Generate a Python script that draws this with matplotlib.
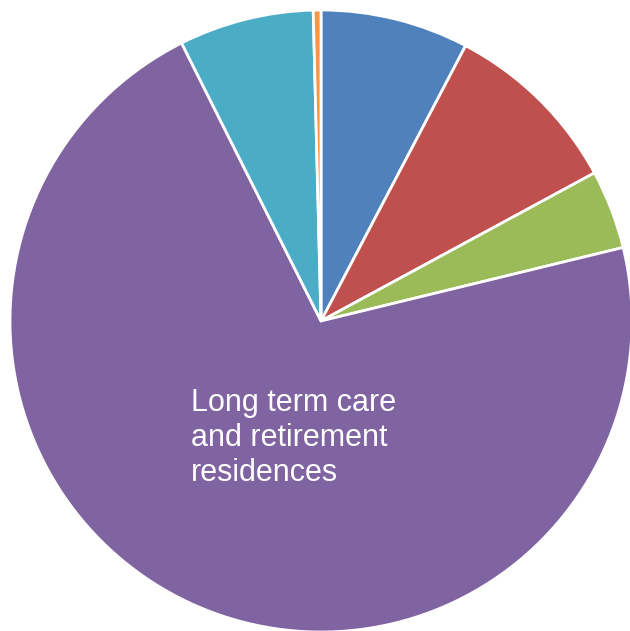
import matplotlib
matplotlib.use("Agg")
import matplotlib.pyplot as plt

# Share of spending by sector, clockwise from 12 o'clock
sectors = ["Sector A", "Sector B", "Sector C",
           "Long term care\nand retirement\nresidences", "Sector E", "Sector F"]
shares = [7.7, 9.4, 4.1, 71.4, 7.0, 0.4]
colors = ["#4F81BD", "#C0504D", "#9BBB59", "#8064A2", "#4BACC6", "#F79646"]

fig = plt.figure(figsize=(6.30, 6.31), dpi=100)
ax = fig.add_axes([0, 0, 1, 1])

wedges, _ = ax.pie(shares, colors=colors, startangle=90, counterclock=False,
                   radius=1.0, wedgeprops=dict(edgecolor="white", linewidth=2.0))

# Only the large slice is labelled
ax.text(-0.418, -0.215, sectors[3], color="white", fontsize=22,
        family="Liberation Sans", ha="left", va="top", linespacing=1.22)

r_px = 311.0
ax.set_xlim(-321 / r_px, 309 / r_px)
ax.set_ylim(-310 / r_px, 321 / r_px)
ax.set_aspect("auto")
ax.axis("off")

fig.savefig("out.png", dpi=100, facecolor="white")
